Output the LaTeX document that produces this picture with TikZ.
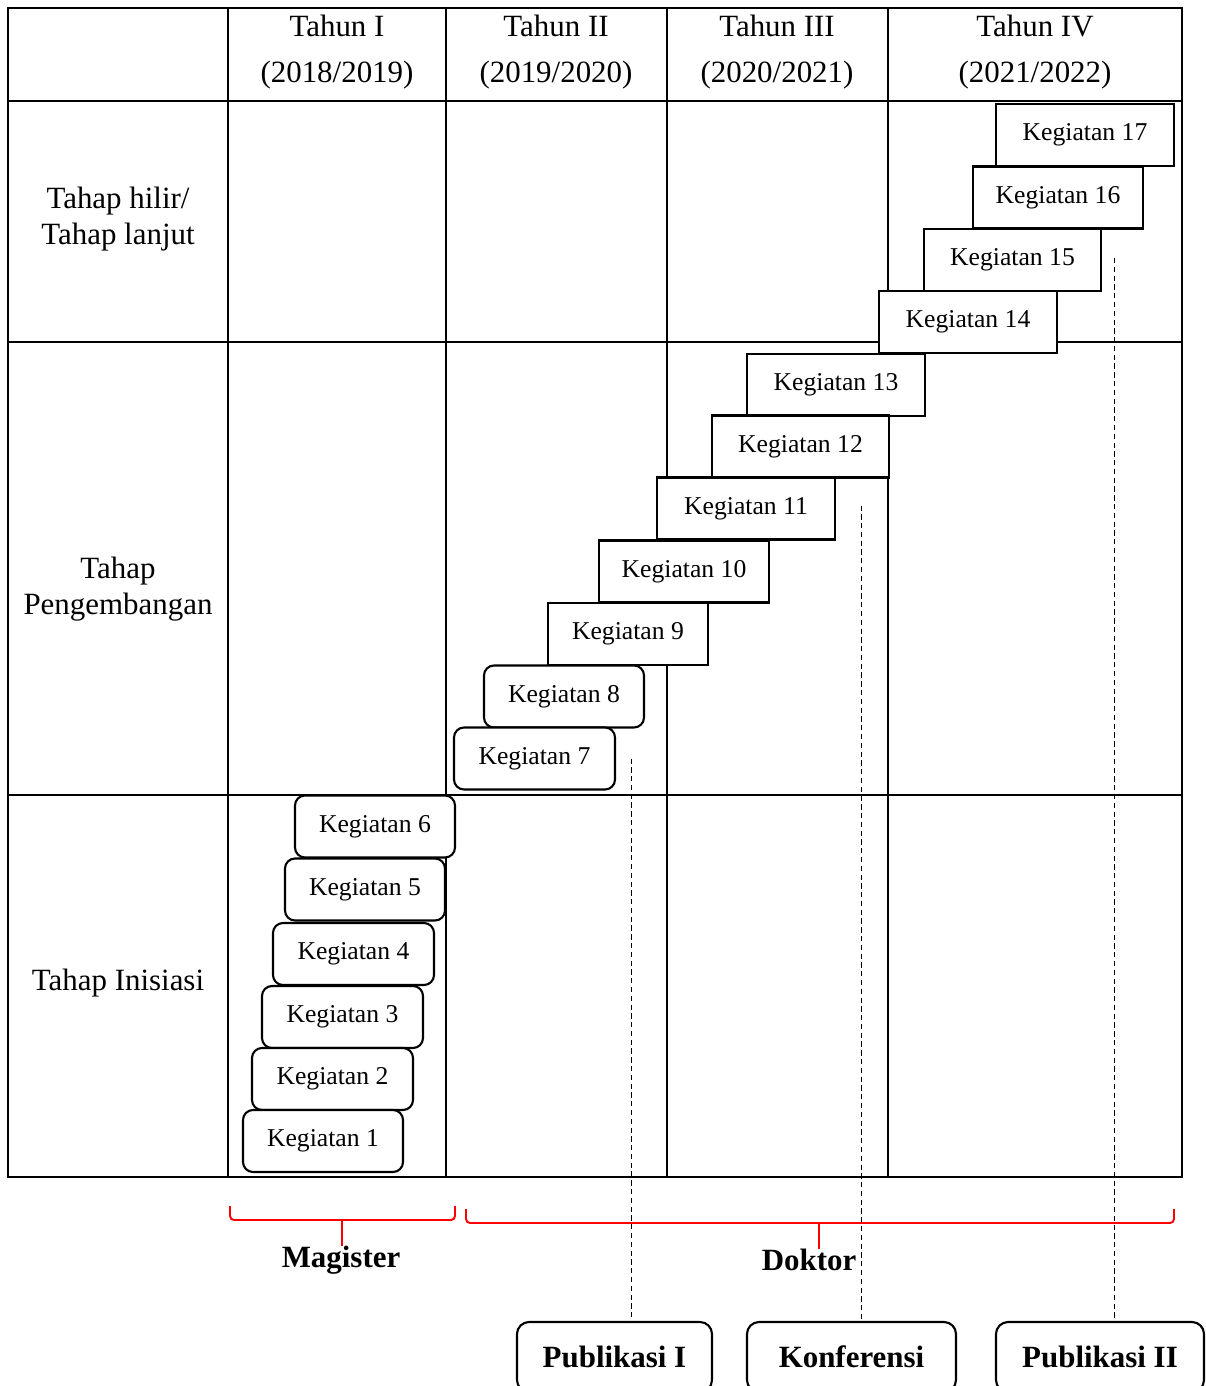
\documentclass[tikz,border=0pt]{standalone}
\usepackage{fontspec}
\setmainfont{Liberation Serif}
\usetikzlibrary{positioning,calc}

\begin{document}
\begin{tikzpicture}[
  x=0.2mm, y=-0.2mm,
  grid/.style={line width=0.95pt},
  hdr/.style={font=\fontsize{17.6}{26}\selectfont, align=center, inner sep=0pt},
  lbl/.style={font=\fontsize{17.6}{20.4}\selectfont, align=center, inner sep=0pt},
  keg/.style={draw, fill=white, line width=1.2pt, minimum height=12.4mm, inner sep=0pt, font=\fontsize{14.6}{17}\selectfont},
  kegr/.style={keg, rounded corners=2mm},
  pub/.style={draw, fill=white, line width=1.2pt, rounded corners=2.4mm, minimum height=14mm, inner sep=0pt, font=\bfseries\fontsize{17.6}{20}\selectfont},
  brc/.style={draw=red, line width=1.1pt, rounded corners=0.8mm},
  guide/.style={line width=0.6pt, dash pattern=on 3pt off 2pt},
]
  \useasboundingbox (0,0) rectangle (1205,1386);
  \clip (0,0) rectangle (1205,1386);

  \draw[grid] (8,8) rectangle (1182,1177);
  \foreach \gx in {228,446,667,888} {
    \draw[grid] (\gx,8) -- (\gx,1177);
  }
  \foreach \gy in {101,342,795} {
    \draw[grid] (8,\gy) -- (1182,\gy);
  }

  \node[hdr] (th1) at (337,52) {Tahun I\\(2018/2019)};
  \node[hdr] (th2) at (556,52) {Tahun II\\(2019/2020)};
  \node[hdr] (th3) at (777,52) {Tahun III\\(2020/2021)};
  \node[hdr] (th4) at (1035,52) {Tahun IV\\(2021/2022)};

  \node[lbl] (hilir) at (118,219) {Tahap hilir/\\Tahap lanjut};
  \node[lbl] (kembang) at (118,589) {Tahap\\Pengembangan};
  \node[lbl] (inisiasi) at (118,983) {Tahap Inisiasi};

  \node[keg, minimum width=35.6mm] (k17) at (1085,135) {Kegiatan 17};
  \node[keg, minimum width=34mm] (k16) at (1058,197.5) {Kegiatan 16};
  \node[keg, minimum width=35.4mm] (k15) at (1012.5,260) {Kegiatan 15};
  \node[keg, minimum width=35.6mm] (k14) at (968,322) {Kegiatan 14};
  \node[keg, minimum width=35.6mm] (k13) at (836,385) {Kegiatan 13};
  \node[keg, minimum width=35.4mm] (k12) at (800.5,446.5) {Kegiatan 12};
  \node[keg, minimum width=35.6mm] (k11) at (746,508.5) {Kegiatan 11};
  \node[keg, minimum width=34mm] (k10) at (684,571.5) {Kegiatan 10};
  \node[keg, minimum width=32mm] (k9) at (628,634) {Kegiatan 9};
  \node[kegr, minimum width=32mm] (k8) at (564,696.5) {Kegiatan 8};
  \node[kegr, minimum width=32.2mm] (k7) at (534.5,758.5) {Kegiatan 7};
  \node[kegr, minimum width=32mm] (k6) at (375,826.5) {Kegiatan 6};
  \node[kegr, minimum width=32mm] (k5) at (365,889.5) {Kegiatan 5};
  \node[kegr, minimum width=32.2mm] (k4) at (353.5,954) {Kegiatan 4};
  \node[kegr, minimum width=32.2mm] (k3) at (342.5,1017) {Kegiatan 3};
  \node[kegr, minimum width=32.2mm] (k2) at (332.5,1079) {Kegiatan 2};
  \node[kegr, minimum width=32mm] (k1) at (323,1141) {Kegiatan 1};

  \node[pub, minimum width=39mm] (pub1) at (614.5,1357) {Publikasi I};
  \node[pub, minimum width=41.8mm] (konf) at (851.5,1357) {Konferensi};
  \node[pub, minimum width=41.6mm] (pub2) at (1100,1357) {Publikasi II};

  \coordinate (g1) at ($(k7.east)+(15,0)$);
  \coordinate (g2) at ($(k11.east)+(25,-3)$);
  \coordinate (g3) at ($(k15.east)+(12,-2)$);
  \foreach \g/\p in {g1/pub1, g2/konf, g3/pub2} {
    \draw[guide] (\g) -- (\g |- \p.north);
  }

  \node[font=\bfseries\fontsize{17.6}{20}\selectfont, inner sep=0pt] (mag) at (341,1260) {Magister};
  \node[font=\bfseries\fontsize{17.6}{20}\selectfont, inner sep=0pt] (dok) at (809,1260) {Doktor};

  \draw[brc] (230,1206) -- (230,1220) -- (455,1220) -- (455,1206);
  \draw[brc] (466,1209) -- (466,1223) -- (1174,1223) -- (1174,1209);
  \coordinate (magtip) at (342,1220);
  \coordinate (doktip) at (819,1223);
  \draw[brc] (magtip) -- (magtip |- mag.north);
  \draw[brc] (doktip) -- (doktip |- dok.north);
\end{tikzpicture}
\end{document}
